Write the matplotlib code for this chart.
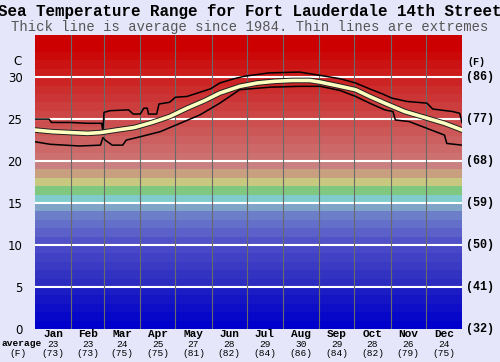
import numpy as np
import matplotlib
matplotlib.use('Agg')
import matplotlib.pyplot as plt
import matplotlib.patheffects as pe
from matplotlib.colors import to_rgb

# 数据：日序与温度（摄氏）
avg_days = [0, 15, 30, 45, 56, 70, 85, 100, 115, 130, 145, 158, 175, 190, 205, 220,
            235, 244, 261, 274, 286, 299, 316, 333, 350, 365]
avg_temp = [23.7, 23.5, 23.4, 23.3, 23.4, 23.7, 24.0, 24.6, 25.3, 26.3, 27.2, 28.1,
            28.9, 29.3, 29.5, 29.6, 29.6, 29.4, 28.9, 28.5, 27.7, 26.9, 25.9, 25.2,
            24.5, 23.7]
max_days = [0, 12, 14, 30, 45, 57, 58, 59, 64, 80, 84, 90, 93, 96, 97, 104, 106, 115,
            120, 130, 141, 150, 158, 170, 179, 200, 226, 244, 261, 274, 286, 297, 305,
            318, 335, 340, 357, 363, 365]
max_temp = [25.0, 25.0, 24.6, 24.6, 24.5, 24.5, 23.6, 25.8, 26.0, 26.1, 25.6, 25.6,
            26.3, 26.3, 25.6, 25.6, 26.8, 27.0, 27.6, 27.7, 28.2, 28.6, 29.3, 29.8,
            30.1, 30.5, 30.6, 30.2, 29.8, 29.3, 28.6, 28.0, 27.5, 27.1, 26.9, 26.2,
            25.9, 25.7, 24.6]
min_days = [0, 13, 38, 56, 58, 60, 66, 75, 78, 90, 107, 124, 141, 158, 175, 201, 226,
            244, 261, 274, 286, 299, 306, 308, 320, 335, 350, 352, 365]
min_temp = [22.3, 22.0, 21.8, 21.9, 22.8, 22.5, 21.9, 21.9, 22.5, 22.9, 23.5, 24.5,
            25.5, 26.9, 28.5, 28.8, 28.9, 28.9, 28.4, 27.7, 26.9, 26.1, 25.9, 24.9,
            24.7, 23.9, 23.1, 22.1, 21.9]

months = ['Jan', 'Feb', 'Mar', 'Apr', 'May', 'Jun', 'Jul', 'Aug', 'Sep', 'Oct', 'Nov', 'Dec']
month_avg_c = [23, 23, 24, 25, 27, 28, 29, 30, 29, 28, 26, 24]
month_avg_f = [73, 73, 75, 75, 81, 82, 84, 86, 84, 82, 79, 75]
c_ticks = [0, 5, 10, 15, 20, 25, 30]
f_labels = [32, 41, 50, 59, 68, 77, 86]

month_len = [31, 28, 31, 30, 31, 30, 31, 31, 30, 31, 30, 31]
bounds = np.cumsum([0] + month_len)
centers = (bounds[:-1] + bounds[1:]) / 2

bg = '#e6e6fa'
fig = plt.figure(figsize=(5, 3.62), dpi=100, facecolor=bg)
ax = fig.add_axes([0.07, 0.091, 0.854, 0.812])
ax.set_xlim(0, 365)
ax.set_ylim(0, 35)

# 色带：每 1 度一条
anchors = {0: '#0000cc', 4: '#1c1cc4', 5: '#2c2cc0', 9: '#4848c8', 10: '#5252c8',
           13: '#6c7ec8', 14: '#80a4c8', 15: '#80cccc', 16: '#80c880', 17: '#c8c880',
           18: '#c8a080', 19: '#c88080', 20: '#cc7070', 25: '#cc4646', 30: '#cc1c1c',
           33: '#cc0000', 35: '#cc0000'}
keys = sorted(anchors)
for d in range(35):
    for k0, k1 in zip(keys[:-1], keys[1:]):
        if k0 <= d <= k1:
            t = (d - k0) / (k1 - k0) if k1 > k0 else 0
            c0, c1 = np.array(to_rgb(anchors[k0])), np.array(to_rgb(anchors[k1]))
            col = c0 + (c1 - c0) * t
            break
    ax.axhspan(d, d + 1, color=col, lw=0, zorder=0)

for y in c_ticks[1:]:
    ax.axhline(y, color='white', lw=1.5, zorder=1)
for b in bounds[1:-1]:
    ax.axvline(b, color='#6a6a6a', lw=0.8, zorder=1)

ax.plot(max_days, max_temp, color='black', lw=1.1, zorder=3)
ax.plot(min_days, min_temp, color='black', lw=1.1, zorder=3)
ax.plot(avg_days, avg_temp, color='#ffffc0', lw=2.6, zorder=4,
        path_effects=[pe.Stroke(linewidth=4.0, foreground='#222222'), pe.Normal()])

for s in ax.spines.values():
    s.set_visible(False)
ax.set_xticks([])
ax.set_yticks(c_ticks)
ax.set_yticklabels([str(v) for v in c_ticks], fontsize=8.5, family='DejaVu Sans')
ax.tick_params(axis='y', length=0, pad=9)

mono = 'Liberation Mono'
xt = ax.get_xaxis_transform()
ax.text(-15, 31.9, 'C', ha='center', va='center', fontsize=8.5, family='DejaVu Sans')
ax.text(370, 31.8, '(F)', ha='left', va='center', fontsize=7.2, family=mono, weight='bold')
for c, f in zip(c_ticks, f_labels):
    ax.text(368.5, c, '(%d)' % f, ha='left', va='center', fontsize=8.5, family=mono,
            weight='bold')

for m, x, c, f in zip(months, centers, month_avg_c, month_avg_f):
    ax.text(x, -0.018, m, transform=xt, ha='center', va='center', fontsize=8,
            family=mono, weight='bold')
    ax.text(x, -0.051, str(c), transform=xt, ha='center', va='center', fontsize=6.8,
            family=mono)
    ax.text(x, -0.083, '(%d)' % f, transform=xt, ha='center', va='center', fontsize=6.8,
            family=mono)
fig.text(0.004, 0.050, 'average', ha='left', va='center', fontsize=6.8, family=mono,
         weight='bold')
fig.text(0.036, 0.024, '(F)', ha='center', va='center', fontsize=6.8, family=mono)

fig.text(0.5, 0.968, 'Sea Temperature Range for Fort Lauderdale 14th Street',
         ha='center', va='center', fontsize=11.4, family=mono, weight='bold')
fig.text(0.5, 0.925, 'Thick line is average since 1984. Thin lines are extremes',
         ha='center', va='center', fontsize=10, family=mono, color='#555555')

fig.savefig('out.png', dpi=100, facecolor=bg)
